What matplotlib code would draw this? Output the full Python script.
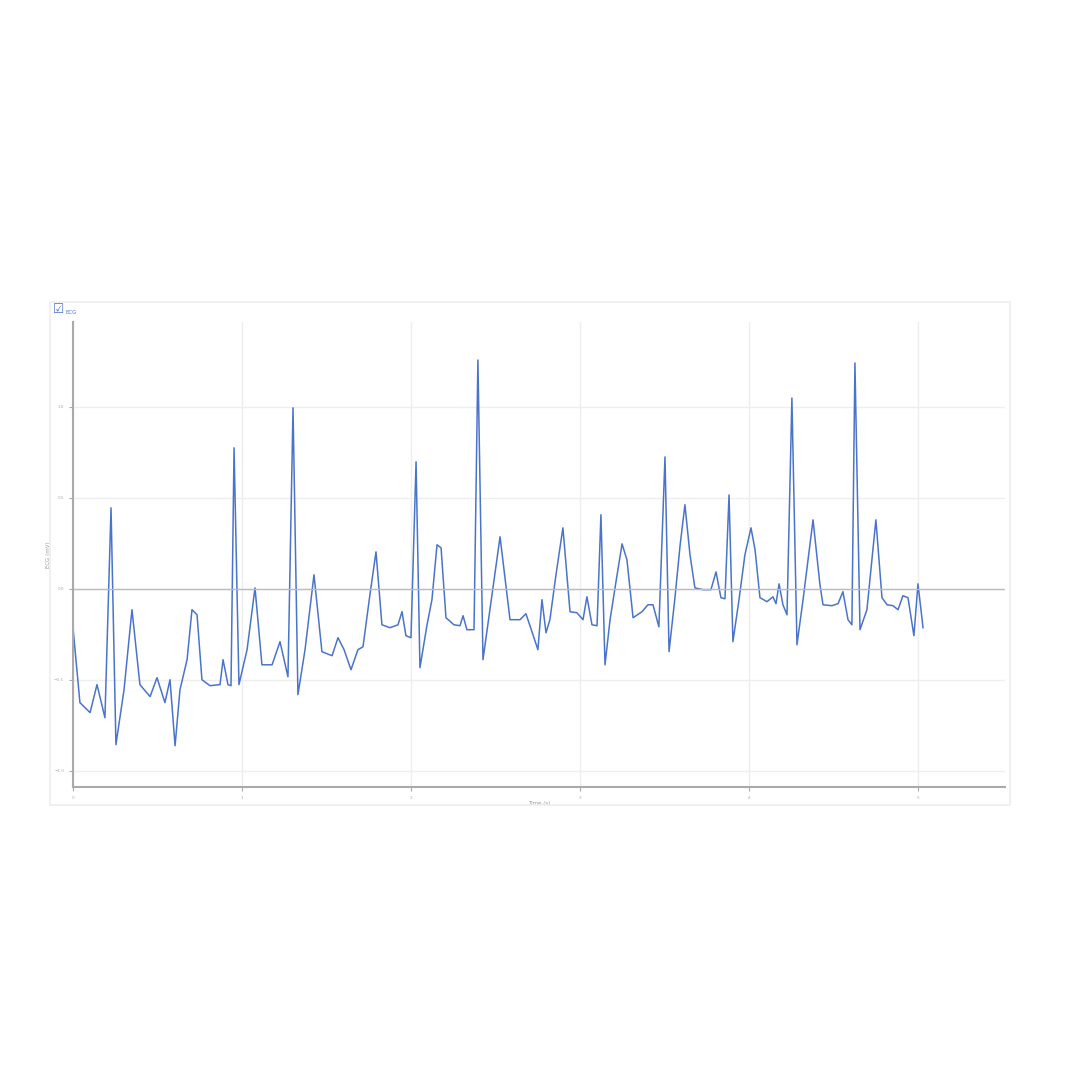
import matplotlib
matplotlib.use("Agg")
import matplotlib.pyplot as plt
from matplotlib.patches import Rectangle

time_s = [0,.041,.101,.142,.189,.225,.254,.302,.349,.396,.456,.497,.544,.574,.604,.633,.675,.704,.734,.763,.811,.870,.888,.917,.935,.953,.982,1.030,1.077,1.118,1.178,1.225,1.272,1.302,1.331,1.373,1.426,1.473,1.533,1.568,1.604,1.645,1.686,1.716,1.757,1.793,1.828,1.876,1.923,1.947,1.970,2.0,2.030,2.053,2.095,2.124,2.154,2.178,2.207,2.254,2.290,2.308,2.331,2.373,2.396,2.426,2.467,2.527,2.586,2.645,2.680,2.716,2.751,2.775,2.799,2.822,2.858,2.899,2.941,2.982,3.018,3.041,3.071,3.101,3.124,3.148,3.178,3.213,3.249,3.278,3.314,3.367,3.402,3.432,3.467,3.503,3.527,3.562,3.592,3.621,3.651,3.680,3.728,3.775,3.805,3.834,3.858,3.882,3.905,3.941,3.976,4.012,4.036,4.065,4.107,4.142,4.160,4.178,4.201,4.225,4.254,4.284,4.320,4.379,4.420,4.438,4.491,4.527,4.556,4.586,4.609,4.627,4.657,4.698,4.751,4.787,4.817,4.852,4.882,4.911,4.941,4.976,5.0,5.030]
ecg_mv = [-.214,-.626,-.681,-.527,-.709,.445,-.857,-.555,-.115,-.527,-.593,-.489,-.626,-.500,-.863,-.555,-.390,-.115,-.143,-.500,-.533,-.527,-.390,-.527,-.533,.775,-.527,-.335,.005,-.418,-.418,-.291,-.484,.995,-.582,-.335,.077,-.346,-.368,-.269,-.335,-.445,-.335,-.319,-.033,.203,-.198,-.214,-.198,-.126,-.258,-.269,.698,-.434,-.198,-.060,.242,.225,-.159,-.198,-.203,-.148,-.225,-.225,1.258,-.390,-.115,.286,-.170,-.170,-.137,-.236,-.335,-.060,-.242,-.170,.077,.335,-.126,-.132,-.170,-.044,-.198,-.203,.407,-.418,-.170,.038,.247,.159,-.159,-.126,-.088,-.088,-.209,.725,-.346,-.049,.236,.462,.187,.005,-.005,-.005,.093,-.049,-.055,.516,-.291,-.060,.187,.335,.214,-.049,-.071,-.044,-.082,.027,-.088,-.143,1.049,-.308,-.060,.379,.022,-.088,-.093,-.082,-.016,-.170,-.198,1.242,-.225,-.115,.379,-.049,-.088,-.093,-.115,-.038,-.049,-.258,.027,-.214]
x_ticks = [0, 1, 2, 3, 4, 5]
y_ticks = [-1, -0.5, 0, 0.5, 1]

fig = plt.figure(figsize=(10.8, 10.8), dpi=100)
fig.patches.append(Rectangle((50/1080, 1-805/1080), 960/1080, 503/1080, transform=fig.transFigure,
                             fill=False, edgecolor='#eeeeee', lw=1.2))
ax = fig.add_axes([73/1080, 1-787/1080, 932/1080, 465/1080])
ax.plot(time_s, ecg_mv, color='#4a74c9', lw=1.1)
ax.set_xlim(0, 5.515)
ax.set_ylim(-1.09, 1.467)
ax.set_xticks(x_ticks)
ax.set_yticks(y_ticks)
ax.tick_params(labelsize=3, colors='#aaaaaa', length=3)
ax.grid(True, color='#eeeeee', lw=1)
ax.axhline(0, color='#bbbbbb', lw=1)
for s in ['top', 'right']:
    ax.spines[s].set_visible(False)
for s in ['left', 'bottom']:
    ax.spines[s].set_color('#aaaaaa')
    ax.spines[s].set_linewidth(1.5)
ax.set_xlabel('Time (s)', fontsize=4, color='#999999', labelpad=1)
ax.set_ylabel('ECG (mV)', fontsize=4, color='#999999', labelpad=2)
fig.text(53/1080, 1-316/1080, '☑', fontsize=9, color='#4a74c9', va='bottom')
fig.text(66/1080, 1-315/1080, 'ECG', fontsize=4, color='#4a74c9', va='bottom')
fig.savefig('out.png', dpi=100, facecolor='white')
